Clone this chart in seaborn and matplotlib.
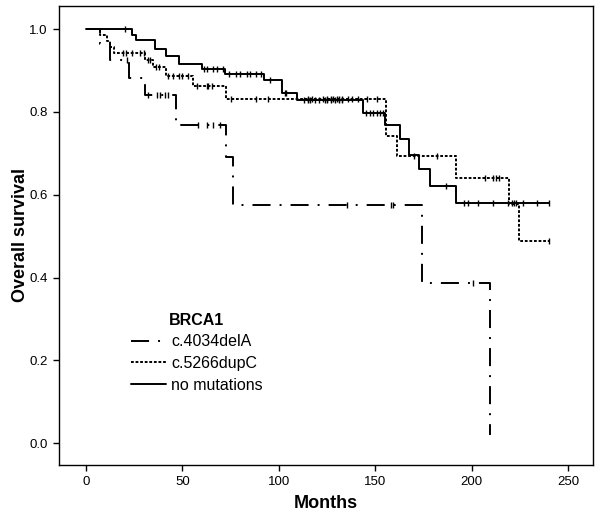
import matplotlib
matplotlib.use('Agg')
import matplotlib.pyplot as plt
import seaborn as sns
import numpy as np
import pandas as pd

# Kaplan-Meier steps (months, survival after each step)
del_times = [0, 7.3, 12.5, 22.5, 30.6, 46.7, 72.7, 76.5, 174.3, 209.8]
del_surv = [1.0, 0.964, 0.925, 0.882, 0.842, 0.769, 0.692, 0.576, 0.386, 0.02]
del_censor = [21.3, 32, 37, 38.5, 41, 42.5, 58, 63, 66, 69.6, 135.3, 158, 159.5, 201]

dup_times = [0, 7.5, 11, 12.5, 14.5, 30.8, 35, 41.5, 55.5, 72.7, 155.8, 161.5, 192, 219.6, 224.5, 240]
dup_surv = [1.0, 0.987, 0.972, 0.957, 0.943, 0.925, 0.908, 0.888, 0.863, 0.831, 0.741, 0.694, 0.640, 0.578, 0.488, 0.488]
dup_censor = [19, 21, 24, 28, 30, 32, 33, 36.5, 38, 42.5, 45, 48, 50, 53, 57.5, 63, 63.5, 65.5,
              75, 88, 94.5, 115, 117, 123, 125, 127, 128, 130, 131, 133, 136, 138, 141, 146, 151,
              170, 182, 207, 211, 212.5, 214, 240]

nm_times = [0, 24, 26, 36, 41.5, 48, 60, 72, 92.5, 101.5, 109.5, 143.5, 155, 163, 167.5, 173, 178.5, 192, 240]
nm_surv = [1.0, 0.986, 0.973, 0.952, 0.934, 0.916, 0.904, 0.892, 0.878, 0.846, 0.829, 0.797, 0.769,
           0.734, 0.696, 0.662, 0.622, 0.580, 0.580]
nm_censor = [20, 61, 63, 66, 68, 71, 74, 78, 80, 83.5, 85, 88, 91, 95.5, 103, 104, 113, 115, 116, 119,
             121, 124, 125, 127, 129, 131, 133, 145, 147.5, 149, 151, 152.5, 154, 187, 196, 198, 203.5,
             211, 219, 221, 222, 223, 226.5, 234, 240]

groups = ['c.4034delA', 'c.5266dupC', 'no mutations']
curves = {
    'c.4034delA': (del_times, del_surv, del_censor),
    'c.5266dupC': (dup_times, dup_surv, dup_censor),
    'no mutations': (nm_times, nm_surv, nm_censor),
}

sns.set_style('ticks')
plt.rcParams['font.family'] = ['Liberation Sans', 'DejaVu Sans']
plt.rcParams['lines.scale_dashes'] = False
plt.rcParams.update({'text.color': 'black', 'axes.labelcolor': 'black',
                     'xtick.color': 'black', 'ytick.color': 'black'})

rows = []
for g in groups:
    t, s, _ = curves[g]
    for ti, si in zip(t, s):
        rows.append({'Months': ti, 'Survival': si, 'BRCA1': g})
df = pd.DataFrame(rows)

fig = plt.figure(figsize=(6, 5.16), dpi=100)
ax = fig.add_axes([59 / 600, 51 / 516, 534 / 600, 459 / 516])

dash_map = {'c.4034delA': (13, 6.5, 1.4, 6.5), 'c.5266dupC': (2.0, 1.3), 'no mutations': ''}
sns.lineplot(data=df, x='Months', y='Survival', style='BRCA1', style_order=groups,
             dashes=dash_map, color='black', linewidth=1.4, drawstyle='steps-post',
             estimator=None, sort=False, ax=ax)

# censoring marks sit on the step curve
for g in groups:
    t, s, c = curves[g]
    idx = np.searchsorted(t, c, side='right') - 1
    ax.plot(c, np.array(s)[idx], linestyle='none', marker='|', color='black',
            markersize=4.5, markeredgewidth=1.0)

ax.set_xlim(-14, 263)
ax.set_ylim(-0.053, 1.056)
ax.set_xticks([0, 50, 100, 150, 200, 250])
ax.set_yticks([0.0, 0.2, 0.4, 0.6, 0.8, 1.0])
ax.set_yticklabels(['0.0', '0.2', '0.4', '0.6', '0.8', '1.0'])
ax.tick_params(labelsize=9.5, length=4.5, width=1.0, color='black', labelcolor='black')
for sp in ax.spines.values():
    sp.set_visible(True)
    sp.set_color('black')
    sp.set_linewidth(1.0)

ax.set_xlabel('Months', fontsize=13, fontweight='bold', labelpad=5)
ax.set_ylabel('Overall survival', fontsize=13, fontweight='bold', labelpad=0)

sns.move_legend(ax, 'lower left', bbox_to_anchor=(0.12, 0.14), frameon=False,
                title='BRCA1', fontsize=11.5, title_fontproperties={'weight': 'bold', 'size': 11.5},
                handlelength=2.2, handletextpad=0.3, labelspacing=0.42, borderpad=0)

fig.savefig('out.png', dpi=100)
